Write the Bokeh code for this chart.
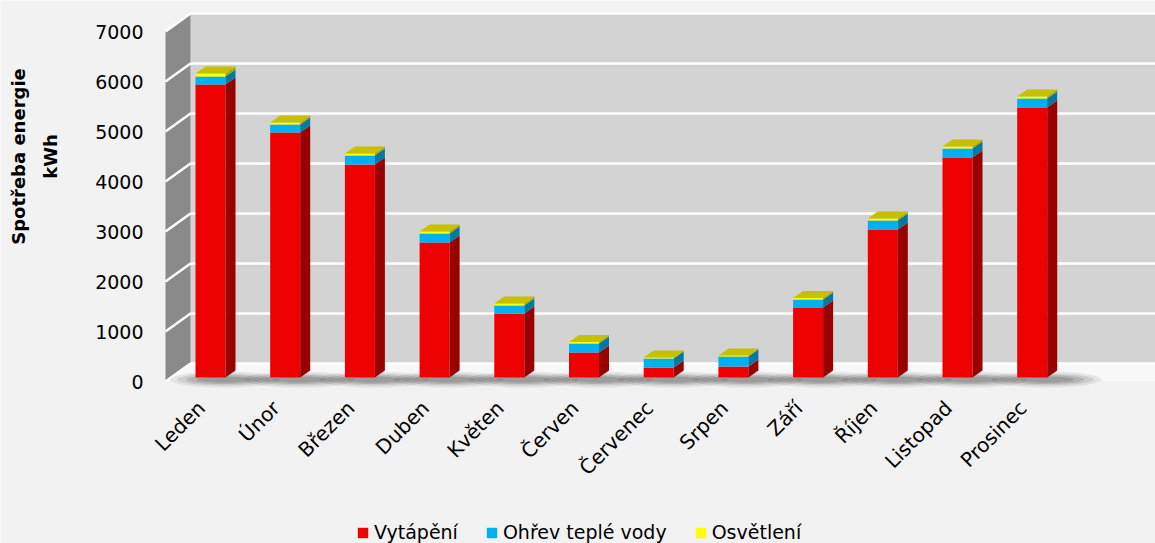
import math
from bokeh.plotting import figure
from bokeh.models import Range1d, Legend, LegendItem, ColumnDataSource
from bokeh.core.properties import value
from bokeh.embed import file_html
from bokeh.resources import INLINE

# ---------------- data ----------------
months = ["Leden", "Únor", "Březen", "Duben", "Květen", "Červen",
          "Červenec", "Srpen", "Září", "Říjen", "Listopad", "Prosinec"]
vytapeni = [5860, 4900, 4260, 2700, 1280, 500, 200, 220, 1400, 2960, 4400, 5400]
ohrev = [160, 160, 180, 180, 160, 180, 180, 200, 160, 180, 180, 180]
osvetleni = [60, 40, 40, 40, 40, 30, 20, 20, 30, 40, 40, 40]
series_names = ["Vytápění", "Ohřev teplé vody", "Osvětlení"]
y_ticks = [0, 1000, 2000, 3000, 4000, 5000, 6000, 7000]
y_tick_labels = ["0", "1000", "2000", "3000", "4000", "5000", "6000", "7000"]
axis_title = ["Spotřeba energie", "kWh"]

# ---------------- layout constants ----------------
W, H = 1155, 543
PX_X = 74.7            # pixels per category
U_PX = 20.0            # kWh per pixel
X0 = -210 / PX_X       # category 0 centred at 210 px
X1 = X0 + W / PX_X
Y1 = 381 * U_PX
Y0 = Y1 - H * U_PX
YMAX = y_ticks[-1]


def px_x(px):
    return X0 + px / PX_X


def px_y(py):
    return Y1 - py * U_PX


WALL_DX = 25 / PX_X
WALL_DY = 18 * U_PX
SIDE_X = px_x(165)
BACK_X = SIDE_X + WALL_DX
BAR_W = 30 / PX_X
BAR_DX = 10 / PX_X
BAR_DY = 7 * U_PX
BAR_BASE = 4 * U_PX

FONT = "DejaVu Sans"

p = figure(width=W, height=H, output_backend="svg", toolbar_location=None,
           x_range=Range1d(X0, X1), y_range=Range1d(Y0, Y1),
           x_axis_location=None, y_axis_location=None,
           min_border_left=0, min_border_right=0,
           min_border_top=0, min_border_bottom=0)
p.background_fill_color = "#f2f2f2"
p.border_fill_color = "#f2f2f2"
p.outline_line_color = None
p.grid.visible = False

# ---------------- walls ----------------
p.quad(left=BACK_X, right=X1, bottom=WALL_DY, top=YMAX + WALL_DY,
       fill_color="#d3d3d3", line_color=None)
p.patch(x=[SIDE_X, BACK_X, BACK_X, SIDE_X], y=[0, WALL_DY, YMAX + WALL_DY, YMAX],
        fill_color="#8a8a8a", line_color=None)
p.patch(x=[SIDE_X, BACK_X, X1, X1], y=[0, WALL_DY, WALL_DY, 0],
        fill_color="#f8f8f8", line_color=None)

grid_src = ColumnDataSource(dict(t=y_ticks, tb=[t + WALL_DY for t in y_ticks]))
p.segment(x0=BACK_X, y0="tb", x1=X1, y1="tb", source=grid_src,
          line_color="white", line_width=2.5)
p.segment(x0=SIDE_X, y0="t", x1=BACK_X, y1="tb", source=grid_src,
          line_color="white", line_width=2.5)

# y tick labels (front plane)
p.text(x=px_x(143), y=y_ticks, text=y_tick_labels, text_align="right",
       text_baseline="middle", text_font=value(FONT), text_font_size="19px",
       text_color="#000000")

# ---------------- shadows ----------------
centers = list(range(len(months)))
for w_px, h_px, a in [(110, 16, 0.09), (95, 12, 0.12), (76, 9, 0.15), (56, 6, 0.18)]:
    p.ellipse(x=[c + 14 / PX_X for c in centers], y=BAR_BASE - 2 * U_PX,
              width=w_px / PX_X, height=h_px * U_PX,
              fill_color="#2a2a2a", fill_alpha=a, line_color=None)

# ---------------- bars ----------------
fronts = ["#ee0000", "#00b0f0", "#ffff00"]
sides = ["#990000", "#0079a3", "#a9a300"]
top_color = "#c6c000"

bottoms = [BAR_BASE] * len(months)
front_renderers = []
for k, vals in enumerate([vytapeni, ohrev, osvetleni]):
    tops = [b + v for b, v in zip(bottoms, vals)]
    left = [c - BAR_W / 2 for c in centers]
    right = [c + BAR_W / 2 for c in centers]
    r = p.quad(left=left, right=right, bottom=bottoms, top=tops,
               fill_color=fronts[k], line_color=None)
    front_renderers.append(r)
    xs = [[rr, rr + BAR_DX, rr + BAR_DX, rr] for rr in right]
    ys = [[b, b + BAR_DY, t + BAR_DY, t] for b, t in zip(bottoms, tops)]
    p.patches(xs=xs, ys=ys, fill_color=sides[k], line_color=None)
    bottoms = tops

txs = [[l, rr, rr + BAR_DX, l + BAR_DX] for l, rr in
       zip([c - BAR_W / 2 for c in centers], [c + BAR_W / 2 for c in centers])]
tys = [[t, t, t + BAR_DY, t + BAR_DY] for t in bottoms]
p.patches(xs=txs, ys=tys, fill_color=top_color, line_color=None)

# ---------------- month labels ----------------
p.text(x=[c - 9 / PX_X for c in centers], y=px_y(404), text=months,
       angle=math.pi / 4, text_align="right", text_baseline="middle",
       text_font=value(FONT), text_font_size="20px", text_color="#000000")

# ---------------- axis title ----------------
p.text(x=[px_x(18), px_x(50)], y=px_y(156), text=axis_title,
       angle=math.pi / 2, text_align="center", text_baseline="middle",
       text_font=value(FONT), text_font_style="bold", text_font_size="18px",
       text_color="#000000")

# ---------------- legend ----------------
legend = Legend(items=[LegendItem(label=n, renderers=[r])
                       for n, r in zip(series_names, front_renderers)],
                orientation="horizontal", location=(356, 0),
                glyph_width=13, glyph_height=13, label_standoff=5, spacing=27,
                padding=0, margin=0, background_fill_alpha=0,
                border_line_color=None, label_text_font=FONT,
                label_text_font_size="19px", label_text_color="#000000")
p.add_layout(legend)

open("out.html", "w").write(file_html(p, INLINE))
